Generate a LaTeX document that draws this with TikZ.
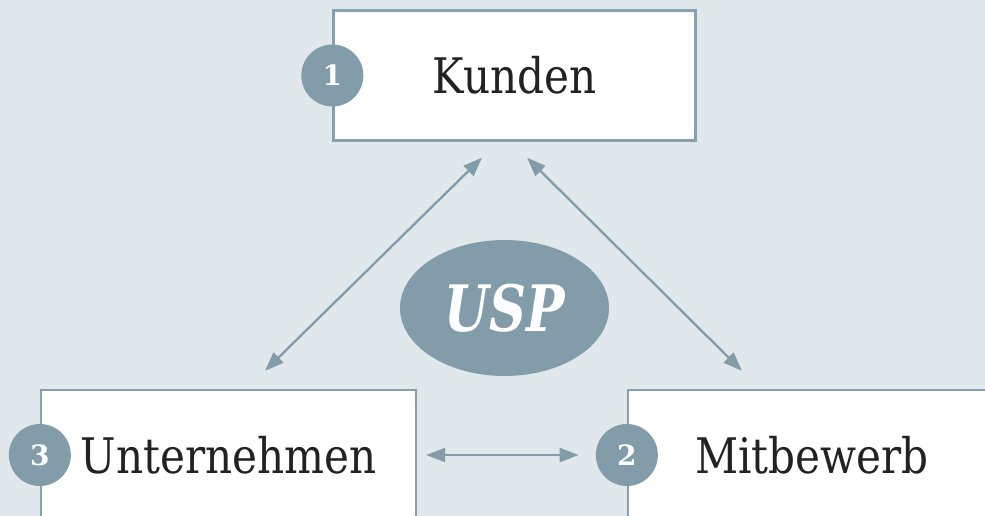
\documentclass[tikz,border=0pt]{standalone}
\usepackage{fontspec}
\usetikzlibrary{arrows.meta,shapes.geometric}
\newfontfamily\labelfont{DejaVu Serif}[FakeStretch=0.86]
\newfontfamily\uspfont{DejaVu Serif}[FakeStretch=0.8]
\newfontfamily\badgefont{DejaVu Serif}
\definecolor{bgcol}{HTML}{E1E8EC}
\definecolor{accent}{HTML}{839CA9}
\definecolor{framecol}{HTML}{87A0AD}
\definecolor{inkcol}{HTML}{222222}
\tikzset{
  box/.style={draw=framecol, line width=2.3pt, fill=white, minimum width=362pt,
    minimum height=130pt, inner sep=0pt, text=inkcol,
    font=\labelfont\fontsize{49}{49}\selectfont},
  badge/.style={circle, fill=accent, minimum size=62pt, inner sep=0pt,
    text=white, font=\badgefont\bfseries\fontsize{28}{28}\selectfont},
  arr/.style={draw=accent, line width=2.3pt,
    {Triangle[length=19pt,width=14pt]}-{Triangle[length=19pt,width=14pt]}}
}
\begin{document}
\begin{tikzpicture}[x=1pt,y=-1pt]
  \fill[bgcol] (0,0) rectangle (985,516);
  \useasboundingbox (0,0) rectangle (985,516);
  \begin{scope}
    \clip (0,0) rectangle (985,516);
    % the three parties
    \node[box] (kunden) at (514.5,75.5) {Kunden};
    \node[box, minimum width=375pt] (unt) at (228.5,455) {Unternehmen};
    \node[box, minimum width=368pt] (mit) at (812,455) {Mitbewerb};
    % numbered badges on the left edges
    \node[badge] (n1) at (kunden.west) {1};
    \node[badge] (n3) at (unt.west) {3};
    \node[badge] (n2) at (mit.west) {2};
    % central proposition
    \node[ellipse, fill=accent, minimum width=209pt, minimum height=136pt,
      inner sep=0pt, text=white,
      font=\uspfont\bfseries\itshape\fontsize{64}{64}\selectfont]
      (usp) at (504.5,308) {USP};
    % relations
    \draw[arr] ([xshift=-32.5pt,yshift=-16pt]kunden.south)
      -- ([xshift=36.5pt,yshift=18pt]unt.north);
    \draw[arr] ([xshift=12.5pt,yshift=-16pt]kunden.south)
      -- ([xshift=-70pt,yshift=18pt]mit.north);
    \draw[arr] ([xshift=9pt]unt.east) -- ([xshift=-17pt]n2.west);
  \end{scope}
\end{tikzpicture}
\end{document}
